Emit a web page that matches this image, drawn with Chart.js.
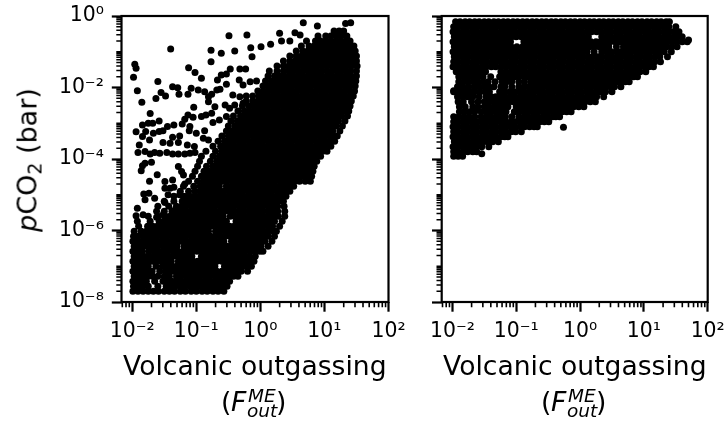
<!DOCTYPE html>
<html>
<head>
<meta charset="utf-8">
<script src="https://cdn.jsdelivr.net/npm/chart.js@4"></script>
<style>
  html, body { margin: 0; background: #fff; overflow: hidden; width: 725px; height: 421px; }
  canvas { position: absolute; top: 0; }
  .t { position: absolute; font-family: 'DejaVu Sans'; white-space: nowrap; line-height: 1; color: #000; font-size: 26.6px; }
  .s { font-size: 18.5px; font-style: italic; }
</style>
</head>
<body>
<canvas id="chartLeft" width="415" height="421" style="left:0"></canvas>
<canvas id="chartRight" width="345" height="421" style="left:405px"></canvas>

<div class="t" style="left:27px;top:160px;font-size:27px;transform:translate(-50%,-50%) rotate(-90deg)"><i>p</i>CO<span style="font-size:19px;position:relative;top:5px">2</span> (bar)</div>

<div class="t" style="left:123px;top:353px">Volcanic outgassing</div>
<div class="t" style="left:221px;top:389px">(</div>
<div class="t" style="left:231px;top:389px"><i>F</i></div>
<div class="t s" style="left:248px;top:387px">ME</div>
<div class="t s" style="left:247px;top:402px">out</div>
<div class="t" style="left:276px;top:389px">)</div>

<div class="t" style="left:443px;top:353px">Volcanic outgassing</div>
<div class="t" style="left:541px;top:389px">(</div>
<div class="t" style="left:551px;top:389px"><i>F</i></div>
<div class="t s" style="left:568px;top:387px">ME</div>
<div class="t s" style="left:567px;top:402px">out</div>
<div class="t" style="left:596px;top:389px">)</div>

<script>
// all values are log10 x 100
const xMajor = [1e-2, 1e-1, 1, 10, 100];
const xLabels = ['10⁻²', '10⁻¹', '10⁰', '10¹', '10²'];
const yMajor = [1, 1e-2, 1e-4, 1e-6, 1e-8];
const yLabels = ['10⁰', '10⁻²', '10⁻⁴', '10⁻⁶', '10⁻⁸'];

// left panel, scattered points above the main band
const leftLooseX = [-196,-194,-198,-192,-185,-160,-140,-137,-129,-155,-148,-163,-127,-112,-102,-92,-77,-61,-77,-49,-21,-40,-15,1,16,-13,30,67,89,133,141,54,62,33,46,-67,-61,-53,-47,-32,-23,-53,-33,-27,-16,-6,-108,-113,-97,-87,-81,-76,-68,-63,-81,-71,-104,-113,-118,-105,-92,-85,-76,-55,-48,-40,-43,-32,-22,-27,-172,-184,-175,-168,-158,-194,-184,-179,-167,-158,-152,-145,-135,-122,-110,-111,-126,-137,-152,-173,-189,-191,-180,-172,-165,-157,-146,-137,-128,-118,-110,-102,-141,-128,-114,-103,-100,-87,-74,-64,-53,-89,-81,-180,-170,-184,-186,-161,-173,-149,-137,-128,-123,-120,-149,-141,-135,-118,-182,-174,-180,-165,-149,-144,-126,-118,-192,-194,-183,-162,-152,-133];
const leftLooseY = [-135,-146,-171,-209,-241,-183,-92,-198,-201,-214,-224,-231,-219,-145,-158,-174,-96,-104,-128,-55,-53,-98,-89,-86,-79,-114,-48,-19,-28,-21,-19,-47,-53,-70,-70,-179,-165,-162,-148,-148,-148,-191,-179,-193,-184,-182,-202,-219,-207,-212,-226,-219,-207,-205,-240,-254,-255,-277,-289,-283,-281,-277,-272,-249,-258,-249,-221,-226,-224,-244,-273,-305,-300,-300,-294,-324,-337,-323,-328,-323,-321,-309,-305,-302,-309,-321,-336,-339,-354,-347,-361,-382,-379,-386,-382,-384,-382,-386,-386,-386,-384,-382,-356,-354,-361,-365,-328,-321,-298,-291,-281,-342,-347,-412,-409,-419,-433,-444,-462,-463,-459,-421,-435,-445,-482,-482,-479,-470,-498,-496,-514,-510,-522,-500,-500,-505,-538,-559,-556,-563,-556,-542];

// left panel, main band, one list of x per row of y
const leftRowY = [-770,-756,-742,-728,-714,-700,-686,-672,-658,-644,-630,-616,-602,-588,-574,-560,-546,-532,-518,-504,-490,-476,-462,-448,-434,-420,-406,-392,-378,-364,-350,-336,-322,-308,-294,-280,-266,-252,-238,-224,-210,-196,-182,-168,-154,-140,-126,-112,-98,-84,-70,-56,-42];
const leftRowX = [
  [-199,-191,-183,-175,-167,-159,-150,-142,-134,-125,-117,-108,-100,-91,-83,-74,-66,-57],
  [-198,-190,-183,-175,-160,-147,-140,-133,-125,-118,-110,-103,-95,-88,-80,-73,-65,-58,-52],
  [-199,-192,-185,-178,-165,-152,-145,-138,-130,-123,-115,-108,-100,-93,-85,-78,-70,-63,-55,-48],
  [-197,-190,-182,-175,-168,-160,-150,-142,-131,-124,-116,-109,-101,-94,-86,-79,-71,-64,-56,-49,-42,-35],
  [-199,-192,-184,-177,-169,-157,-148,-141,-135,-128,-120,-113,-105,-98,-90,-83,-75,-68,-60,-53,-45,-38,-30,-20],
  [-197,-190,-182,-175,-163,-153,-146,-138,-131,-124,-116,-109,-101,-94,-86,-79,-71,-56,-49,-41,-34,-26,-19,-14],
  [-199,-192,-184,-177,-169,-162,-154,-147,-139,-128,-120,-113,-105,-98,-90,-83,-75,-68,-60,-53,-45,-38,-30,-23,-16,-10],
  [-197,-190,-182,-175,-167,-160,-152,-145,-137,-130,-122,-115,-107,-92,-85,-77,-70,-62,-55,-47,-40,-32,-25,-17,-8],
  [-199,-192,-184,-174,-166,-159,-151,-144,-136,-129,-121,-114,-106,-99,-91,-84,-76,-69,-61,-54,-46,-39,-31,-24,-16,-9,-1,4],
  [-197,-190,-182,-175,-167,-160,-152,-145,-137,-130,-119,-112,-104,-97,-89,-82,-74,-67,-59,-52,-44,-37,-29,-22,-14,-7,1,12],
  [-199,-192,-184,-177,-169,-162,-154,-147,-139,-132,-124,-117,-109,-102,-94,-87,-79,-72,-64,-57,-45,-38,-30,-23,-15,-8,0,7,18],
  [-198,-191,-183,-176,-168,-161,-153,-146,-138,-131,-123,-116,-108,-101,-93,-86,-78,-71,-63,-56,-48,-41,-33,-26,-18,-11,-3,4,12,22],
  [-197,-186,-178,-171,-163,-156,-148,-141,-133,-126,-118,-111,-103,-96,-88,-81,-70,-63,-55,-48,-40,-33,-25,-18,-10,-3,5,12,20,25],
  [-190,-176,-168,-161,-153,-146,-138,-131,-123,-116,-108,-101,-93,-86,-78,-71,-63,-56,-48,-41,-33,-26,-18,-11,-3,4,12,19,30],
  [-192,-172,-158,-151,-143,-136,-128,-121,-113,-106,-98,-91,-83,-76,-68,-61,-53,-38,-31,-23,-16,-8,-1,7,14,22,34],
  [-175,-160,-148,-141,-133,-126,-118,-111,-103,-96,-88,-81,-73,-66,-58,-47,-40,-32,-25,-17,-10,-2,5,13,20,28,38],
  [-162,-150,-138,-131,-123,-116,-108,-101,-93,-86,-78,-71,-63,-56,-48,-41,-33,-26,-18,-11,-3,4,12,19,27,38],
  [-160,-143,-131,-123,-116,-108,-101,-93,-86,-78,-71,-63,-56,-48,-41,-33,-26,-18,-11,-3,4,12,19,27,37],
  [-150,-135,-122,-114,-107,-99,-92,-84,-77,-69,-62,-54,-47,-39,-32,-24,-17,-9,-2,6,13,21,28,36],
  [-135,-120,-110,-103,-95,-88,-80,-73,-65,-58,-50,-43,-35,-28,-20,-13,-5,2,10,17,25,32,40],
  [-125,-112,-102,-94,-87,-79,-72,-64,-57,-49,-42,-34,-27,-19,-12,-4,3,11,18,26,33,41,46],
  [-120,-104,-94,-87,-79,-72,-64,-53,-45,-38,-30,-23,-15,-8,0,7,15,22,30,37,45,52],
  [-112,-98,-89,-82,-74,-67,-59,-52,-44,-37,-29,-22,-14,-7,1,8,16,23,31,38,46,53,61,70,78],
  [-106,-92,-84,-77,-69,-62,-54,-47,-39,-32,-24,-17,-9,-2,6,13,21,28,36,43,51,58,66,73,80],
  [-102,-88,-80,-72,-65,-57,-50,-42,-35,-27,-20,-12,-5,3,10,18,25,33,40,48,55,63,70,76,82],
  [-98,-84,-74,-67,-59,-52,-44,-37,-29,-22,-14,-7,1,8,16,23,31,38,46,53,61,68,76,84],
  [-95,-78,-68,-61,-53,-46,-38,-31,-23,-16,-8,-1,7,14,22,29,37,44,52,59,67,74,82,88],
  [-92,-74,-64,-56,-49,-41,-34,-26,-19,-11,-4,4,11,19,26,34,41,49,56,64,71,79,86,94],
  [-85,-70,-60,-52,-45,-37,-30,-22,-15,-7,0,8,15,23,30,38,45,53,60,68,75,83,90,97,104],
  [-74,-62,-55,-47,-40,-32,-25,-17,-10,-2,5,13,20,28,35,43,50,58,65,73,80,88,95,103,110],
  [-66,-56,-48,-41,-33,-26,-18,-11,-3,4,12,19,27,34,42,49,57,64,72,79,87,94,102,109,116],
  [-60,-50,-42,-35,-27,-20,-12,-5,3,10,18,25,33,40,48,55,63,70,78,85,93,100,108,114,120],
  [-53,-44,-37,-29,-22,-14,-7,1,8,16,23,31,38,46,53,61,68,76,83,91,98,106,113,124],
  [-50,-40,-32,-25,-17,-10,-2,5,13,20,28,35,43,50,58,65,73,80,88,95,103,110,118,128],
  [-46,-36,-28,-21,-13,-6,2,9,17,24,32,39,47,54,62,69,77,84,92,99,107,114,122,132],
  [-42,-31,-23,-16,-8,-1,7,14,22,29,37,44,52,59,67,74,82,89,97,104,112,119,127,136],
  [-35,-25,-17,-10,-2,5,13,20,28,35,43,50,58,65,73,80,88,95,103,110,118,125,133,138],
  [-28,-18,-10,-3,5,12,20,27,35,42,50,57,65,72,80,87,95,102,110,117,125,132,140],
  [-22,-12,-4,3,11,18,26,33,41,48,56,63,71,78,86,93,101,108,116,123,131,138,142],
  [-12,-2,5,13,20,28,35,43,50,58,65,73,80,88,95,103,110,118,125,133,140,145],
  [-4,5,12,20,27,35,42,50,57,65,72,80,87,95,102,110,117,125,132,140,147],
  [4,12,19,27,34,42,49,57,64,72,79,87,94,102,109,117,124,132,139,148],
  [8,17,24,32,39,47,54,62,69,77,84,92,99,107,114,122,129,137,143,149],
  [12,22,30,37,45,52,60,67,75,82,90,97,105,112,120,127,135,142,150],
  [14,26,36,44,51,59,66,74,81,89,96,104,111,119,126,134,141,150],
  [26,36,44,52,59,67,74,82,89,97,104,112,119,127,134,142,151],
  [36,46,54,62,69,77,84,92,99,107,114,122,129,137,144,150],
  [46,56,64,72,79,87,94,102,109,117,124,132,139,145,150],
  [56,66,74,82,89,97,104,112,119,127,134,142,148],
  [64,76,84,92,99,107,114,122,129,137,146],
  [72,86,94,102,110,118,125,133,140],
  [90,102,110,118,126,135],
  [115,123,130]
];

// right panel, lone points
const rightLooseX = [-198,-187,-178,-26,-154,170];
const rightLooseY = [-209,-209,-209,-311,-385,-67];

// right panel, filled wedge, one list of x per row of y
const rightRowY = [-16,-30,-44,-58,-72,-86,-100,-114,-128,-142,-156,-170,-184,-198,-212,-226,-240,-254,-268,-282,-296,-310,-324,-338,-352,-366,-380,-392];
const rightRowX = [
  [-195,-188,-180,-173,-165,-158,-150,-143,-135,-128,-120,-113,-105,-98,-90,-83,-75,-68,-60,-53,-45,-38,-30,-23,-15,-8,0,7,15,22,30,37,45,52,60,67,75,82,90,97,105,112,120,127,135,140],
  [-198,-191,-183,-176,-168,-161,-153,-146,-138,-131,-123,-116,-108,-101,-93,-86,-78,-71,-63,-56,-48,-41,-33,-26,-18,-11,-3,4,12,19,27,34,42,49,57,64,72,79,87,94,102,109,117,124,132,139,150],
  [-199,-192,-184,-177,-169,-162,-154,-147,-139,-132,-124,-117,-109,-102,-94,-87,-79,-72,-64,-57,-49,-42,-34,-27,-19,-12,-4,3,11,18,26,33,41,48,56,63,71,78,86,93,101,108,116,123,131,138,146,155],
  [-197,-190,-182,-175,-167,-160,-152,-145,-137,-130,-122,-115,-107,-100,-92,-85,-77,-70,-62,-55,-47,-40,-32,-25,-17,-10,-2,5,13,34,42,49,57,64,72,79,87,94,102,109,117,124,132,139,147,153,160],
  [-199,-192,-184,-177,-169,-162,-154,-147,-139,-132,-124,-116,-109,-88,-81,-73,-66,-58,-51,-43,-36,-28,-21,-13,-6,2,9,17,25,32,40,47,55,62,70,77,85,92,100,107,115,122,130,137,145,152,160,168],
  [-197,-190,-182,-175,-167,-160,-152,-145,-137,-130,-122,-115,-108,-99,-90,-83,-75,-68,-60,-53,-45,-38,-30,-23,-15,-8,0,7,15,22,30,37,45,57,68,76,83,91,98,106,113,121,128,136,144,152],
  [-199,-192,-184,-177,-169,-162,-154,-147,-139,-132,-124,-117,-109,-102,-94,-87,-79,-72,-64,-57,-49,-42,-34,-27,-19,-12,-4,3,11,22,34,42,49,57,64,72,79,87,94,102,109,117,124,132,143],
  [-197,-190,-182,-175,-167,-160,-152,-145,-137,-130,-122,-115,-107,-100,-92,-85,-77,-70,-62,-55,-47,-40,-32,-25,-17,-10,-2,5,13,20,28,35,43,50,58,65,73,80,88,95,103,110,118,125,137],
  [-198,-191,-183,-176,-168,-161,-153,-146,-138,-131,-123,-116,-108,-101,-93,-86,-78,-71,-63,-56,-48,-41,-33,-26,-18,-11,-3,4,12,19,27,34,42,49,57,64,72,79,87,94,102,109,117,126],
  [-199,-192,-184,-177,-169,-162,-154,-147,-139,-132,-124,-117,-109,-102,-94,-87,-79,-72,-64,-57,-49,-42,-34,-27,-19,-12,-4,3,11,18,26,33,41,48,56,63,71,78,86,93,101,108,115],
  [-194,-186,-179,-171,-164,-156,-148,-124,-116,-108,-101,-93,-86,-78,-71,-63,-56,-48,-41,-33,-26,-18,-11,-3,4,12,19,27,34,42,49,57,64,72,79,87,94,103],
  [-190,-183,-175,-168,-160,-152,-140,-126,-118,-111,-103,-96,-88,-81,-73,-66,-58,-51,-43,-36,-28,-21,-13,-6,2,9,17,24,32,39,47,54,62,69,77,84,90],
  [-190,-182,-175,-167,-160,-152,-144,-133,-122,-115,-107,-96,-87,-77,-70,-62,-55,-47,-40,-32,-25,-17,-10,-2,5,13,20,28,35,43,50,58,65,71,77],
  [-192,-184,-175,-166,-158,-150,-143,-135,-124,-118,-107,-96,-88,-81,-73,-66,-58,-51,-43,-36,-28,-21,-13,-6,2,9,17,24,32,39,47,54,64],
  [-198,-190,-180,-172,-165,-157,-149,-142,-126,-118,-110,-103,-95,-88,-80,-73,-65,-58,-50,-43,-35,-28,-20,-13,-5,2,10,17,25,32,40,50],
  [-192,-184,-176,-168,-158,-147,-139,-132,-124,-117,-109,-102,-94,-87,-79,-72,-64,-57,-49,-42,-34,-27,-19,-12,-4,3,11,18,26,37],
  [-191,-183,-170,-160,-150,-142,-135,-127,-120,-112,-105,-97,-90,-82,-75,-67,-60,-52,-45,-37,-30,-22,-15,-7,0,8,16,24],
  [-189,-180,-168,-160,-150,-143,-135,-128,-120,-113,-100,-92,-85,-77,-70,-62,-55,-47,-40,-32,-25,-17,-10,-2,6],
  [-189,-181,-173,-165,-155,-146,-139,-131,-124,-116,-103,-96,-88,-81,-73,-66,-58,-51,-43,-36,-28,-21,-14],
  [-198,-190,-182,-174,-165,-155,-147,-140,-132,-125,-117,-107,-96,-88,-81,-73,-66,-58,-51,-43,-38,-32],
  [-198,-191,-183,-176,-168,-161,-153,-146,-138,-131,-123,-116,-108,-101,-93,-86,-78,-71,-63,-56,-49],
  [-199,-192,-184,-177,-169,-162,-154,-147,-139,-132,-124,-117,-109,-102,-94,-87,-79,-72,-67],
  [-198,-191,-183,-176,-168,-161,-153,-146,-138,-131,-123,-116,-108,-101,-92],
  [-199,-192,-184,-177,-169,-162,-154,-147,-139,-132,-124,-118,-113],
  [-197,-190,-182,-175,-167,-160,-152,-145,-137,-128],
  [-199,-192,-184,-177,-169,-162,-154,-143],
  [-198,-191,-183,-176,-168,-162],
  [-198,-191,-184]
];

const toValue = v => Math.pow(10, v / 100);

function buildPoints(looseX, looseY, rowY, rowX) {
  const pts = looseX.map((x, i) => ({ x: toValue(x), y: toValue(looseY[i]) }));
  rowY.forEach((y, i) => rowX[i].forEach(x => pts.push({ x: toValue(x), y: toValue(y) })));
  return pts;
}

const frameAndMinorTicks = {
  id: 'frameAndMinorTicks',
  afterDraw(chart) {
    const { ctx, chartArea: a, scales } = chart;
    ctx.save();
    ctx.strokeStyle = '#000';
    ctx.lineWidth = 1.6;
    ctx.beginPath();
    for (let e = -3; e < 2; e++) {
      for (let m = 2; m < 10; m++) {
        const px = scales.x.getPixelForValue(m * Math.pow(10, e));
        if (px < a.left - 0.5 || px > a.right + 0.5) continue;
        ctx.moveTo(px, a.bottom);
        ctx.lineTo(px, a.bottom + 5.2);
      }
    }
    for (let e = -8; e < 0; e++) {
      for (let m = 1; m < 10; m++) {
        if (m === 1 && e % 2 === 0) continue;
        const py = scales.y.getPixelForValue(m * Math.pow(10, e));
        ctx.moveTo(a.left, py);
        ctx.lineTo(a.left - 5.2, py);
      }
    }
    ctx.stroke();
    ctx.lineWidth = 2.2;
    ctx.strokeRect(a.left, a.top, a.right - a.left, a.bottom - a.top);
    ctx.restore();
  }
};

function makePanel(id, points, opts) {
  const labelFont = { family: 'DejaVu Sans', size: 20.4 };
  return new Chart(document.getElementById(id).getContext('2d'), {
    type: 'scatter',
    data: {
      datasets: [{
        data: points,
        backgroundColor: '#000',
        borderWidth: 0,
        pointRadius: 3.5,
        pointHoverRadius: 3.5
      }]
    },
    options: {
      responsive: false,
      animation: false,
      events: [],
      layout: { padding: { left: 0, top: 16, right: opts.padRight, bottom: 0 } },
      plugins: { legend: { display: false }, tooltip: { enabled: false } },
      scales: {
        x: {
          type: 'logarithmic',
          min: 0.0068,
          max: 100,
          afterBuildTicks: s => { s.ticks = xMajor.map(v => ({ value: v, major: true })); },
          afterFit: s => { s.height = 119; s.paddingLeft = 0; s.paddingRight = 0; },
          border: { display: false },
          grid: { drawOnChartArea: false, tickLength: 9.7, tickWidth: 2.2, tickColor: '#000' },
          ticks: {
            color: '#000',
            font: labelFont,
            padding: 8,
            maxRotation: 0,
            autoSkip: false,
            callback: (v, i) => xLabels[i]
          }
        },
        y: {
          type: 'logarithmic',
          min: 1e-8,
          max: 1,
          afterBuildTicks: s => { s.ticks = yMajor.map(v => ({ value: v, major: true })); },
          afterFit: s => { s.width = opts.axisWidth; s.paddingTop = 0; s.paddingBottom = 0; },
          border: { display: false },
          grid: { drawOnChartArea: false, tickLength: 9.7, tickWidth: 2.2, tickColor: '#000' },
          ticks: {
            display: opts.showY,
            color: '#000',
            font: labelFont,
            padding: 8,
            autoSkip: false,
            callback: (v, i) => yLabels[i]
          }
        }
      }
    },
    plugins: [frameAndMinorTicks]
  });
}

makePanel('chartLeft', buildPoints(leftLooseX, leftLooseY, leftRowY, leftRowX),
  { padRight: 26.5, axisWidth: 121.5, showY: true });
makePanel('chartRight', buildPoints(rightLooseX, rightLooseY, rightRowY, rightRowX),
  { padRight: 42.3, axisWidth: 36.7, showY: false });
</script>
</body>
</html>
